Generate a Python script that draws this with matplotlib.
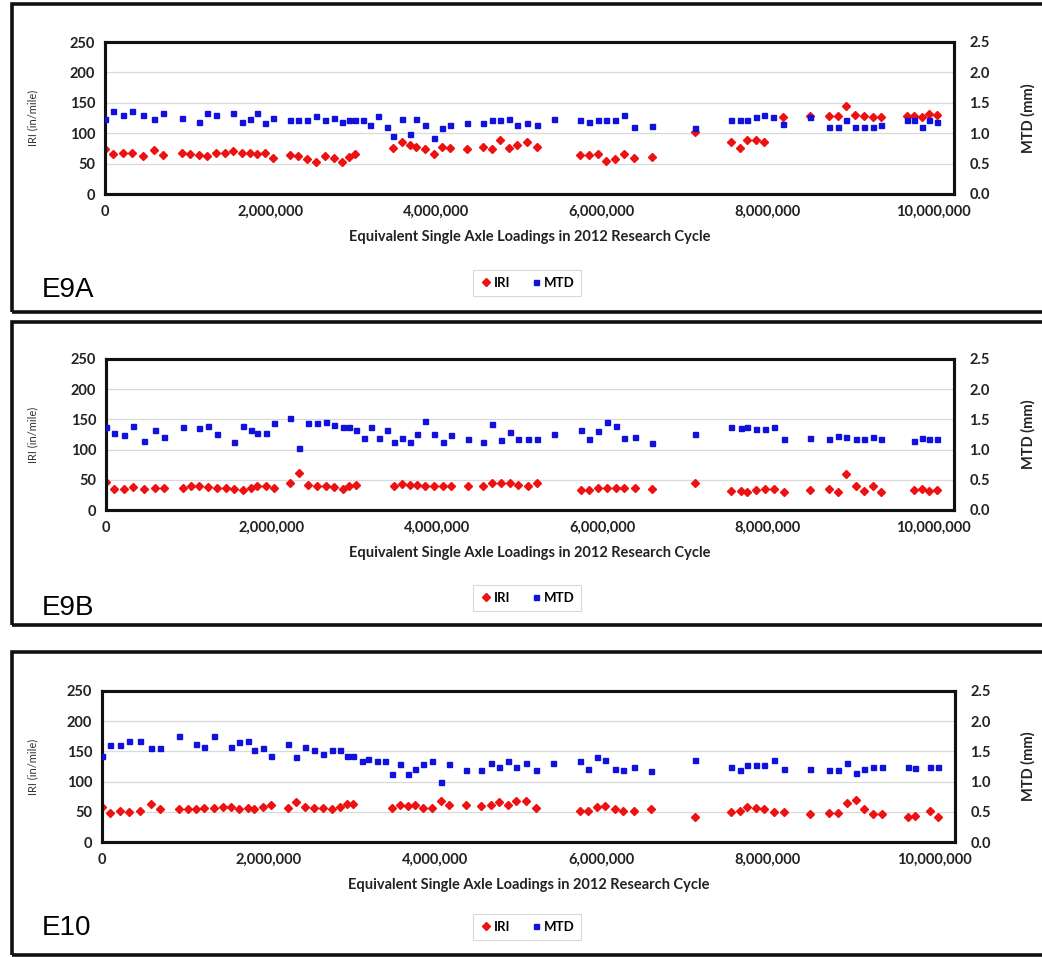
import numpy as np
import matplotlib.pyplot as plt
from matplotlib.lines import Line2D
from matplotlib.patches import Rectangle

plt.rcParams['font.family'] = ['Lato', 'DejaVu Sans']

N = None

# ESAL at each survey (millions of loadings), shared by the three sections
esal_m = [
    0.00, 0.10, 0.22, 0.33, 0.46, 0.59, 0.70, 0.93, 1.03, 1.13,
    1.23, 1.34, 1.45, 1.55, 1.65, 1.75, 1.83, 1.93, 2.03, 2.23,
    2.33, 2.44, 2.55, 2.66, 2.76, 2.86, 2.94, 3.02, 3.12, 3.20,
    3.30, 3.40, 3.48, 3.58, 3.68, 3.76, 3.86, 3.97, 4.07, 4.17,
    4.37, 4.56, 4.67, 4.77, 4.88, 4.98, 5.10, 5.21, 5.42, 5.74,
    5.84, 5.95, 6.05, 6.16, 6.26, 6.39, 6.60, 7.12, 7.56, 7.67,
    7.75, 7.86, 7.96, 8.07, 8.19, 8.51, 8.74, 8.85, 8.95, 9.06,
    9.16, 9.27, 9.37, 9.68, 9.77, 9.86, 9.95, 10.05]

# IRI in in/mile
e9a_iri = [
    74, 66, 68, 68, 63, 72, 64, 67, 66, 64,
    63, 68, 68, 70, 67, 67, 66, 67, 59, 64,
    62, 57, 52, 62, 59, 53, 61, 66, N, N,
    N, N, 75, 85, 81, 77, 74, 66, 77, 75,
    74, 77, 74, 89, 75, 80, 86, 77, N, 64,
    64, 65, 55, 58, 65, 59, 61, 102, 86, 76,
    88, 88, 86, N, 126, 128, 128, 128, 145, 130,
    128, 126, 126, 128, 128, 126, 132, 130]
e9b_iri = [
    47, 34, 34, 38, 34, 36, 36, 36, 39, 40,
    38, 36, 36, 34, 33, 36, 39, 40, 36, 45,
    61, 41, 40, 39, 38, 35, 40, 41, N, N,
    N, N, 40, 43, 41, 41, 40, 40, 39, 40,
    40, 39, 45, 45, 44, 41, 40, 44, N, 33,
    33, 37, 37, 37, 37, 37, 35, 45, 31, 31,
    29, 33, 35, 35, 29, 33, 34, 30, 59, 40,
    31, 40, 29, N, 33, 35, 31, 33]
e10_iri = [
    58, 48, 52, 50, 52, 63, 55, 55, 55, 54,
    57, 57, 58, 58, 54, 57, 55, 58, 61, 57,
    66, 58, 57, 57, 55, 58, 63, 63, N, N,
    N, N, 57, 62, 59, 62, 57, 57, 68, 61,
    62, 59, 61, 66, 61, 68, 68, 57, N, 51,
    51, 58, 59, 54, 52, 52, 54, 41, 50, 51,
    58, 57, 54, 50, 50, 46, 48, 48, 65, 70,
    55, 47, 47, 41, 43, N, 52, 41]

# MTD in mm
e9a_mtd = [
    1.23, 1.37, 1.30, 1.37, 1.30, 1.23, 1.33, 1.25, N, 1.19,
    1.34, 1.30, N, 1.34, 1.19, 1.23, 1.33, 1.17, 1.25, 1.21,
    1.21, 1.21, 1.28, 1.21, 1.25, 1.18, 1.22, 1.21, 1.21, 1.14,
    1.29, 1.11, 0.96, 1.23, 0.99, 1.23, 1.14, 0.92, 1.08, 1.14,
    1.16, 1.16, 1.21, 1.22, 1.23, 1.13, 1.17, 1.13, 1.24, 1.22,
    1.19, 1.21, 1.22, 1.22, 1.30, 1.10, 1.12, 1.08, 1.22, 1.21,
    1.22, 1.27, 1.30, 1.26, 1.15, 1.26, 1.11, 1.11, 1.21, 1.11,
    1.10, 1.10, 1.13, 1.21, 1.21, 1.11, 1.22, 1.19]
e9b_mtd = [
    1.37, 1.27, 1.24, 1.39, 1.14, 1.32, 1.21, 1.37, N, 1.36,
    1.39, 1.26, N, 1.13, 1.39, 1.32, 1.27, 1.27, 1.44, 1.52,
    1.02, 1.44, 1.44, 1.45, 1.41, 1.38, 1.37, 1.32, 1.19, 1.37,
    1.19, 1.32, 1.13, 1.19, 1.13, 1.26, 1.47, 1.26, 1.12, 1.24,
    1.17, 1.12, 1.43, 1.16, 1.29, 1.17, 1.17, 1.17, 1.25, 1.33,
    1.18, 1.31, 1.45, 1.39, 1.20, 1.21, 1.11, 1.25, 1.38, 1.36,
    1.38, 1.34, 1.34, 1.38, 1.17, 1.20, 1.17, 1.22, 1.21, 1.17,
    1.17, 1.21, 1.18, N, 1.14, 1.20, 1.18, 1.18]
e10_mtd = [
    1.42, 1.60, 1.60, 1.68, 1.68, 1.56, 1.56, 1.75, N, 1.62,
    1.58, 1.75, N, 1.57, 1.66, 1.67, 1.52, 1.55, 1.43, 1.62,
    1.40, 1.58, 1.52, 1.46, 1.52, 1.52, 1.42, 1.43, 1.34, 1.38,
    1.34, 1.34, 1.13, 1.29, 1.12, 1.21, 1.29, 1.34, 0.99, 1.29,
    1.20, 1.20, 1.31, 1.24, 1.34, 1.24, 1.31, 1.19, 1.30, 1.34,
    1.21, 1.40, 1.35, 1.21, 1.20, 1.24, 1.18, 1.36, 1.25, 1.19,
    1.27, 1.27, 1.27, 1.36, 1.21, 1.21, 1.19, 1.19, 1.30, 1.14,
    1.21, 1.25, 1.25, 1.24, 1.23, N, 1.24, 1.25]

sections = ['E9A', 'E9B', 'E10']
iri_data = [e9a_iri, e9b_iri, e10_iri]
mtd_data = [e9a_mtd, e9b_mtd, e10_mtd]

x_ticks = [0, 2000000, 4000000, 6000000, 8000000, 10000000]
iri_ticks = [0, 50, 100, 150, 200, 250]
mtd_ticks = [0.0, 0.5, 1.0, 1.5, 2.0, 2.5]

RED = '#ee1111'
BLUE = '#1111dd'

W, H = 1042, 957
fig = plt.figure(figsize=(W / 100, H / 100), dpi=100)

# pixel layout of each panel: plot box (left, right, top, bottom), frame (top, bottom)
boxes = [(105, 954, 42, 194), (106, 954, 359, 510), (102, 955, 691, 842)]
frames = [(4, 312), (322, 625), (652, 955)]
legend_y = [283, 598, 927]
title_y = [290, 608, 928]

esal = np.array(esal_m) * 1e6

for i, name in enumerate(sections):
    l, r, t, b = boxes[i]
    ax = fig.add_axes([l / W, 1 - b / H, (r - l) / W, (b - t) / H])
    ax2 = ax.twinx()

    iri = np.array(iri_data[i], dtype=float)
    mtd = np.array(mtd_data[i], dtype=float)
    ax.plot(esal, iri, ls='none', marker='D', ms=3.8, color=RED, zorder=3)
    ax2.plot(esal, mtd, ls='none', marker='s', ms=3.6, color=BLUE, zorder=3)

    ax.set_xlim(0, 10250000)
    ax.set_ylim(0, 250)
    ax2.set_ylim(0, 2.5)
    ax.set_xticks(x_ticks)
    ax.set_xticklabels(['{:,}'.format(v) for v in x_ticks])
    ax.set_yticks(iri_ticks)
    ax2.set_yticks(mtd_ticks)
    ax2.set_yticklabels(['%.1f' % v for v in mtd_ticks])
    ax.grid(axis='y', color='#d9d9d9', lw=0.9)
    ax.set_axisbelow(True)

    for a in (ax, ax2):
        for s in a.spines.values():
            s.set_linewidth(2.2)
            s.set_color('#111111')
    ax.tick_params(axis='x', length=0, pad=8, labelsize=10.5)
    ax.tick_params(axis='y', length=0, pad=7, labelsize=10.5)
    ax2.tick_params(axis='y', length=0, pad=11, labelsize=10.5)
    for lab in ax.get_xticklabels() + ax.get_yticklabels() + ax2.get_yticklabels():
        lab.set_fontweight('bold')
        lab.set_color('#222222')

    ax.set_xlabel('Equivalent Single Axle Loadings in 2012 Research Cycle',
                  fontsize=10.5, fontweight='bold', labelpad=8, color='#222222')
    ax.set_ylabel('IRI (in/mile)', fontsize=8, color='#333333')
    ax.yaxis.set_label_coords((38 - l) / (r - l), 0.5)
    ax2.set_ylabel('MTD (mm)', fontsize=10.5, fontweight='bold', color='#222222')
    ax2.yaxis.set_label_coords((1021 - l) / (r - l), 0.5)

    handles = [Line2D([], [], ls='none', marker='D', ms=4, color=RED, label='IRI'),
               Line2D([], [], ls='none', marker='s', ms=3.6, color=BLUE, label='MTD')]
    leg = fig.legend(handles=handles, loc='center', ncol=2,
                     bbox_to_anchor=(527 / W, 1 - legend_y[i] / H),
                     prop={'weight': 'bold', 'size': 9.5}, frameon=True,
                     fancybox=False, edgecolor='#d0d0d0', handletextpad=0.1,
                     columnspacing=1.4, handlelength=1.0, borderpad=0.5)
    leg.get_frame().set_linewidth(0.8)

    fig.text(42 / W, 1 - title_y[i] / H, name, fontsize=20,
             family='Liberation Sans', va='center', ha='left')

    ft, fb = frames[i]
    fig.patches.append(Rectangle((12 / W, 1 - fb / H), 1.2, (fb - ft) / H,
                                 transform=fig.transFigure, fill=False,
                                 lw=2.6, edgecolor='#111111'))

fig.savefig('out.png', dpi=100)
